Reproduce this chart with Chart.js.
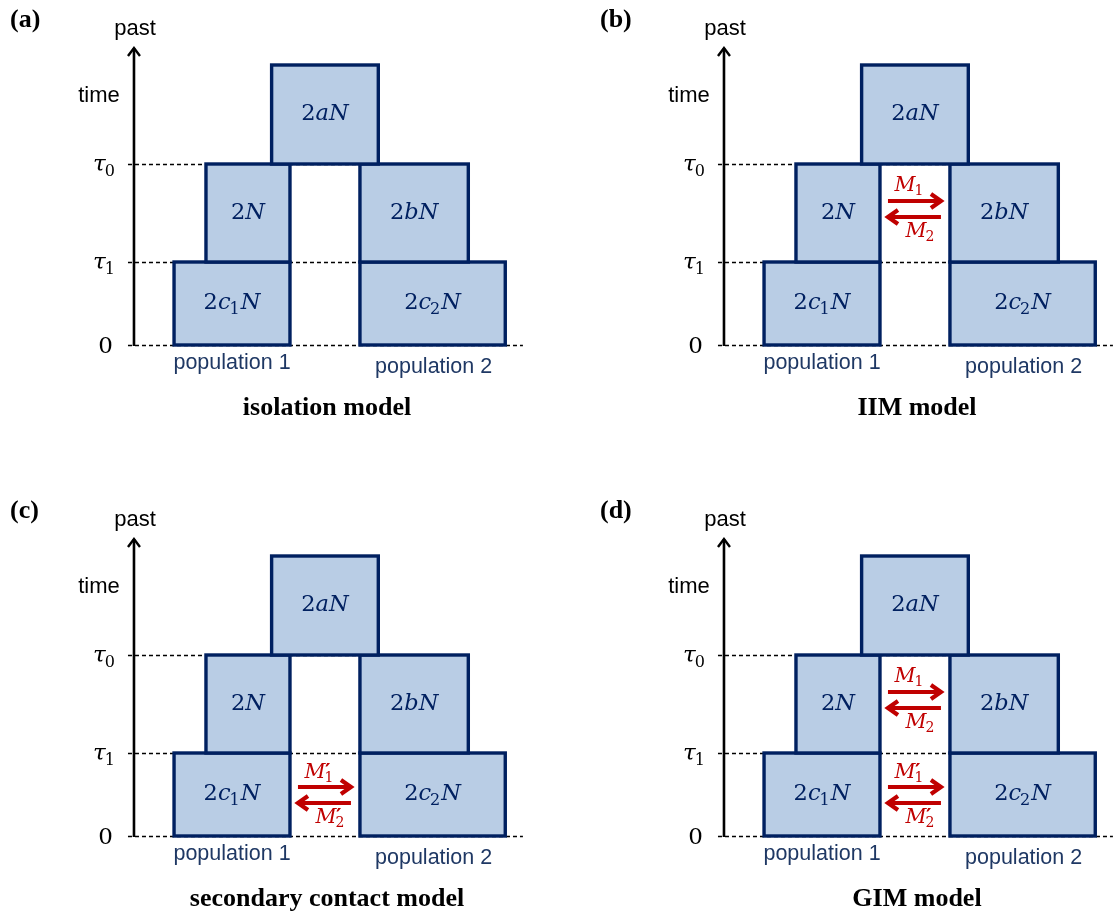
<!DOCTYPE html>
<html><head><meta charset="utf-8">
<script src="https://cdn.jsdelivr.net/npm/chart.js@4.4.1/dist/chart.umd.min.js"></script>
<style>
html,body{margin:0;padding:0;background:#fff;}
#wrap{position:relative;width:1114px;height:915px;background:#fff;}
.panel{position:absolute;width:524px;height:424px;}
canvas{display:block;}
</style></head><body>
<div id="wrap">
<div class="panel" style="left:0px;top:0px"><canvas id="c0" width="524" height="424"></canvas></div>
<div class="panel" style="left:590px;top:0px"><canvas id="c1" width="524" height="424"></canvas></div>
<div class="panel" style="left:0px;top:491px"><canvas id="c2" width="524" height="424"></canvas></div>
<div class="panel" style="left:590px;top:491px"><canvas id="c3" width="524" height="424"></canvas></div>
</div>
<script>
// ---------------- data ----------------
const epochLabels = ['0', 'τ_1', 'τ_0'];
const epochTimes = [0, 0.83, 1.81];          // time values (past upward)
const ancestralEnd = 2.80;                   // top of ancestral epoch
const boxLabels = ['2c_1N', '2c_2N', '2N', '2bN', '2aN'];
const boxSizes = [1.38, 1.73, 1.00, 1.29, 1.27];   // population size relative to N
const boxPopulation = ['pop1', 'pop2', 'pop1', 'pop2', 'anc'];
const boxEpoch = [0, 0, 1, 1, 2];            // index into epochTimes (start)
const populationLabels = ['population 1', 'population 2'];
const panelTags = ['(a)', '(b)', '(c)', '(d)'];
const panelTitles = ['isolation model', 'IIM model', 'secondary contact model', 'GIM model'];
const ancientMigration = [null, ['M_1', 'M_2'], null, ['M_1', 'M_2']];
const recentMigration = [null, null, ["M'_1", "M'_2"], ["M'_1", "M'_2"]];

// ---------------- layout / style ----------------
const LAYOUT = { pop1Right: 1.857, pop2Left: 2.69, xMin: -1.595, xMax: 4.643, yMin: -0.79, yMax: 3.45, zeroEnd: 4.63 };
const BOX_FILL = '#b9cde5', BOX_STROKE = '#002060', TEXT_BLUE = '#1f3864', RED = '#c00000';
const MATH_FONT = '"DejaVu Serif", serif';

function fontStr(style, weight, size, fam) { return style + ' ' + weight + ' ' + size + 'px ' + fam; }

function layoutMath(ctx, str, size) {
  const items = [];
  let i = 0;
  while (i < str.length) {
    const ch = str[i];
    if (ch === "'") { items.push({ t: '′', role: 'sup' }); i++; continue; }
    if (ch === '_') { items.push({ t: str[i + 1], role: 'sub' }); i += 2; continue; }
    items.push({ t: ch, role: 'base', it: /[A-Za-zτ]/.test(ch) });
    i++;
  }
  let x = 0; const placed = []; let k = 0;
  while (k < items.length) {
    const it = items[k];
    if (it.role === 'base') {
      const f = fontStr(it.it ? 'italic' : 'normal', 'normal', size, MATH_FONT);
      ctx.font = f;
      const w = ctx.measureText(it.t).width;
      placed.push({ t: it.t, x: x, dy: 0, font: f });
      x += w; k++;
    } else {
      let w = 0;
      while (k < items.length && items[k].role !== 'base') {
        const s = items[k];
        let f, dx, dy;
        if (s.role === 'sup') {
          f = fontStr('normal', 'bold', Math.round(size * 1.0), MATH_FONT);
          dx = -size * 0.02; dy = -size * 0.02;
        } else {
          f = fontStr('normal', 'normal', Math.round(size * 0.7), MATH_FONT);
          dx = -size * 0.05; dy = size * 0.28;
        }
        ctx.font = f;
        const ww = ctx.measureText(s.t).width;
        placed.push({ t: s.t, x: x + dx, dy: dy, font: f });
        w = Math.max(w, ww * (s.role === 'sup' ? 0.6 : 1)); k++;
      }
      x += w;
    }
  }
  return { placed, width: x };
}
function drawMath(ctx, str, cx, cy, size, color, align) {
  const L = layoutMath(ctx, str, size);
  let x0 = align === 'right' ? cx - L.width : cx - L.width / 2;
  ctx.fillStyle = color;
  ctx.textBaseline = 'middle';
  ctx.textAlign = 'left';
  L.placed.forEach(p => { ctx.font = p.font; ctx.fillText(p.t, x0 + p.x, cy + p.dy); });
}

function arrow(ctx, x1, x2, y, color) {
  const dir = x2 > x1 ? 1 : -1;
  ctx.save();
  ctx.strokeStyle = color; ctx.lineWidth = 4.2; ctx.lineCap = 'butt'; ctx.lineJoin = 'miter';
  ctx.beginPath(); ctx.moveTo(x1, y); ctx.lineTo(x2 - dir * 2, y); ctx.stroke();
  ctx.beginPath();
  ctx.moveTo(x2 - dir * 10, y - 7); ctx.lineTo(x2, y); ctx.lineTo(x2 - dir * 10, y + 7);
  ctx.stroke();
  ctx.restore();
}

const diagramPlugin = {
  id: 'diagram',
  afterDraw(chart) {
    const p = chart.options.plugins.diagram.panel;
    const ctx = chart.ctx, xs = chart.scales.x, ys = chart.scales.y;
    const X = v => xs.getPixelForValue(v), Y = v => ys.getPixelForValue(v);
    const axisX = X(0);
    ctx.save();
    // dashed epoch lines
    ctx.strokeStyle = '#000'; ctx.lineWidth = 1.3; ctx.setLineDash([4, 3]);
    epochTimes.forEach((t, i) => {
      const xEnd = i === 0 ? X(LAYOUT.zeroEnd) : X(LAYOUT.pop2Left);
      ctx.beginPath(); ctx.moveTo(axisX - 6, Y(t) + 0.5); ctx.lineTo(xEnd, Y(t) + 0.5); ctx.stroke();
    });
    ctx.setLineDash([]);
    // boxes
    const gapC = (LAYOUT.pop1Right + LAYOUT.pop2Left) / 2;
    const boxes = boxLabels.map((lab, i) => {
      let x0, x1;
      if (boxPopulation[i] === 'pop1') { x0 = LAYOUT.pop1Right - boxSizes[i]; x1 = LAYOUT.pop1Right; }
      else if (boxPopulation[i] === 'pop2') { x0 = LAYOUT.pop2Left; x1 = LAYOUT.pop2Left + boxSizes[i]; }
      else { x0 = gapC - boxSizes[i] / 2; x1 = gapC + boxSizes[i] / 2; }
      const e = boxEpoch[i];
      const t0 = epochTimes[e], t1 = e + 1 < epochTimes.length ? epochTimes[e + 1] : ancestralEnd;
      return { lab, l: X(x0), r: X(x1), b: Y(t0), t: Y(t1) };
    });
    boxes.forEach(b => {
      ctx.fillStyle = BOX_FILL;
      ctx.fillRect(b.l, b.t, b.r - b.l, b.b - b.t);
      ctx.strokeStyle = BOX_STROKE; ctx.lineWidth = 3.4;
      ctx.strokeRect(b.l, b.t, b.r - b.l, b.b - b.t);
    });
    boxes.forEach(b => drawMath(ctx, b.lab, (b.l + b.r) / 2, (b.t + b.b) / 2, 22.5, BOX_STROKE));
    // time axis
    const tip = 47;
    ctx.strokeStyle = '#000'; ctx.lineWidth = 2.6; ctx.lineCap = 'butt';
    ctx.beginPath(); ctx.moveTo(axisX, Y(0) + 1); ctx.lineTo(axisX, tip + 1); ctx.stroke();
    ctx.lineWidth = 2.4; ctx.lineJoin = 'miter';
    ctx.beginPath(); ctx.moveTo(axisX - 6, tip + 9); ctx.lineTo(axisX, tip + 1); ctx.lineTo(axisX + 6, tip + 9); ctx.stroke();
    ctx.fillStyle = '#000'; ctx.textAlign = 'center'; ctx.textBaseline = 'middle';
    ctx.font = '22px "Liberation Sans", Arial, sans-serif';
    ctx.fillText('past', axisX + 1, 29);
    ctx.fillText('time', axisX - 35, 96);
    // epoch labels
    epochTimes.forEach((t, i) => drawMath(ctx, epochLabels[i], axisX - (i === 0 ? 21 : 18), Y(t) + (i === 0 ? 2 : 1), 23, '#000', 'right'));
    // population labels
    ctx.fillStyle = TEXT_BLUE; ctx.textAlign = 'center'; ctx.textBaseline = 'middle';
    ctx.font = '21.5px "Liberation Sans", Arial, sans-serif';
    ctx.fillText(populationLabels[0], (boxes[0].l + boxes[0].r) / 2, Y(0) + 18);
    ctx.fillText(populationLabels[1], (boxes[1].l + boxes[1].r) / 2 + 1, Y(0) + 22);
    // migration arrows
    const ax1 = X(LAYOUT.pop1Right) + 8, ax2 = X(LAYOUT.pop2Left) - 9, amid = (ax1 + ax2) / 2;
    const drawMig = (labels, topY, o) => {
      arrow(ctx, ax1, ax2, topY + o[0], RED);
      arrow(ctx, ax2, ax1, topY + o[1], RED);
      drawMath(ctx, labels[0], amid - 5, topY + o[2], 20.5, RED);
      drawMath(ctx, labels[1], amid + 6, topY + o[3], 20.5, RED);
    };
    if (ancientMigration[p]) drawMig(ancientMigration[p], Y(epochTimes[2]), [37, 53, 22, 68]);
    if (recentMigration[p]) drawMig(recentMigration[p], Y(epochTimes[1]), [34, 50, 20, 65]);
    // tag and title
    ctx.fillStyle = '#000'; ctx.textAlign = 'left'; ctx.textBaseline = 'middle';
    ctx.font = 'bold 26px "Liberation Serif", "Times New Roman", serif';
    ctx.fillText(panelTags[p], 10, 20);
    ctx.textAlign = 'center';
    ctx.fillText(panelTitles[p], 327, 408);
    ctx.restore();
  }
};

panelTitles.forEach((title, p) => {
  new Chart(document.getElementById('c' + p), {
    type: 'scatter',
    data: { datasets: [] },
    plugins: [diagramPlugin],
    options: {
      responsive: false, animation: false, devicePixelRatio: 1,
      layout: { padding: 0 },
      scales: {
        x: { type: 'linear', min: LAYOUT.xMin, max: LAYOUT.xMax, display: false },
        y: { type: 'linear', min: LAYOUT.yMin, max: LAYOUT.yMax, display: false }
      },
      plugins: { legend: { display: false }, tooltip: { enabled: false }, diagram: { panel: p } }
    }
  });
});
</script>
</body></html>
